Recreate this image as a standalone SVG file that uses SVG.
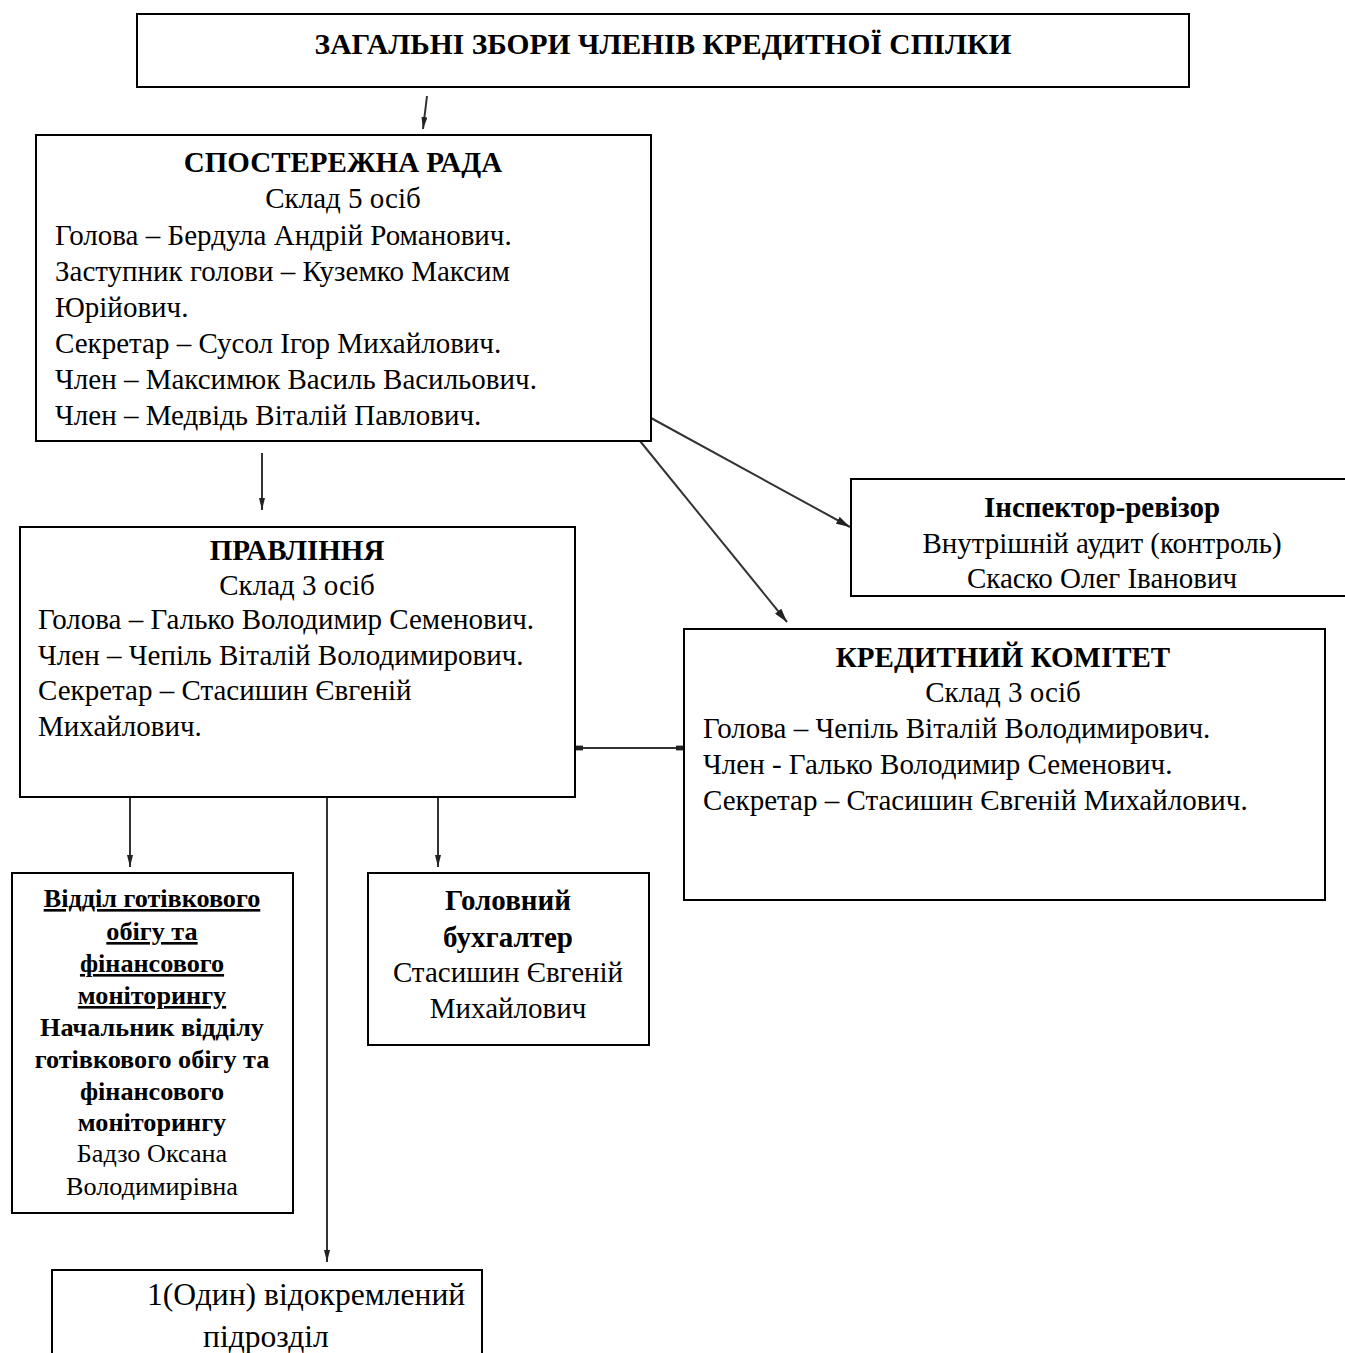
<svg xmlns="http://www.w3.org/2000/svg" width="1345" height="1353" viewBox="0 0 1345 1353">
<style>
.box{fill:#fff;stroke:#000;stroke-width:2}
text{font-family:"Liberation Serif","Times New Roman",serif;font-size:29px;fill:#000}
.b{font-weight:bold}
.c{text-anchor:middle}
.u{text-decoration:underline}
.s{font-size:26.2px}
.l{font-size:31.6px}
.t{font-size:29.5px}
.ln{stroke:#333;stroke-width:2;fill:none}
</style>
<defs>
<marker id="ah" viewBox="0 0 12 6" refX="12" refY="3" markerWidth="12" markerHeight="6" orient="auto" markerUnits="userSpaceOnUse" preserveAspectRatio="none">
<path d="M0,0 L12,3 L0,6 z" fill="#222"/>
</marker>
<marker id="ah2" viewBox="0 0 14 8" refX="14" refY="4" markerWidth="14" markerHeight="8" orient="auto" markerUnits="userSpaceOnUse" preserveAspectRatio="none">
<path d="M0,0 L14,4 L0,8 z" fill="#222"/>
</marker>
<marker id="ahs" viewBox="0 0 10 10" refX="10" refY="5" markerWidth="8" markerHeight="8" orient="auto-start-reverse" markerUnits="userSpaceOnUse">
<path d="M0,2 L10,2 L10,8 L0,8 z" fill="#222"/>
</marker>
</defs>
<rect width="1345" height="1353" fill="#fff"/>
<g id="connectors">
<line class="ln" x1="427" y1="96" x2="423" y2="129" marker-end="url(#ah)"/>
<line class="ln" x1="262" y1="453" x2="262" y2="510" marker-end="url(#ah)"/>
<line class="ln" x1="651" y1="418" x2="850" y2="527" marker-end="url(#ah2)"/>
<line class="ln" x1="640" y1="441" x2="787" y2="622" marker-end="url(#ah2)"/>
<line class="ln" x1="575" y1="748" x2="684" y2="748" marker-start="url(#ahs)" marker-end="url(#ahs)"/>
<line class="ln" x1="130" y1="798" x2="130" y2="867" marker-end="url(#ah)"/>
<line class="ln" x1="438" y1="798" x2="438" y2="867" marker-end="url(#ah)"/>
<line class="ln" x1="327" y1="798" x2="327" y2="1262" marker-end="url(#ah)"/>
</g>
<g id="zbory">
<rect class="box" x="137" y="14" width="1052" height="73"/>
<text class="b c t" x="663" y="54">ЗАГАЛЬНІ ЗБОРИ ЧЛЕНІВ КРЕДИТНОЇ СПІЛКИ</text>
</g>
<g id="rada">
<rect class="box" x="36" y="135" width="615" height="306"/>
<text class="b c" x="343" y="172">СПОСТЕРЕЖНА РАДА</text>
<text class="c" x="343" y="208">Склад 5 осіб</text>
<text x="55" y="245">Голова – Бердула Андрій Романович.</text>
<text x="55" y="281">Заступник голови – Куземко Максим</text>
<text x="55" y="317">Юрійович.</text>
<text x="55" y="353">Секретар – Сусол Ігор Михайлович.</text>
<text x="55" y="389">Член – Максимюк Василь Васильович.</text>
<text x="55" y="425">Член – Медвідь Віталій Павлович.</text>
</g>
<g id="pravlinnia">
<rect class="box" x="20" y="527" width="555" height="270"/>
<text class="b c" x="297" y="560">ПРАВЛІННЯ</text>
<text class="c" x="297" y="595">Склад 3 осіб</text>
<text x="38" y="629">Голова – Галько Володимир Семенович.</text>
<text x="38" y="665">Член – Чепіль Віталій Володимирович.</text>
<text x="38" y="700">Секретар – Стасишин Євгеній</text>
<text x="38" y="736">Михайлович.</text>
</g>
<g id="inspektor">
<rect class="box" x="851" y="479" width="500" height="117"/>
<text class="b c" x="1102" y="517">Інспектор-ревізор</text>
<text class="c" x="1102" y="553">Внутрішній аудит (контроль)</text>
<text class="c" x="1102" y="588">Скаско Олег Іванович</text>
</g>
<g id="komitet">
<rect class="box" x="684" y="629" width="641" height="271"/>
<text class="b c" x="1003" y="667">КРЕДИТНИЙ КОМІТЕТ</text>
<text class="c" x="1003" y="702">Склад 3 осіб</text>
<text x="703" y="738">Голова – Чепіль Віталій Володимирович.</text>
<text x="703" y="774">Член - Галько Володимир Семенович.</text>
<text x="703" y="810">Секретар – Стасишин Євгеній Михайлович.</text>
</g>
<g id="viddil">
<rect class="box" x="12" y="873" width="281" height="340"/>
<text class="b c u s" x="152" y="907">Відділ готівкового</text>
<text class="b c u s" x="152" y="940">обігу та</text>
<text class="b c u s" x="152" y="972">фінансового</text>
<text class="b c u s" x="152" y="1004">моніторингу</text>
<text class="b c s" x="152" y="1036">Начальник відділу</text>
<text class="b c s" x="152" y="1068">готівкового обігу та</text>
<text class="b c s" x="152" y="1100">фінансового</text>
<text class="b c s" x="152" y="1131">моніторингу</text>
<text class="c s" x="152" y="1162">Бадзо Оксана</text>
<text class="c s" x="152" y="1195">Володимирівна</text>
</g>
<g id="buhgalter">
<rect class="box" x="368" y="873" width="281" height="172"/>
<text class="b c" x="508" y="910">Головний</text>
<text class="b c" x="508" y="947">бухгалтер</text>
<text class="c" x="508" y="982">Стасишин Євгеній</text>
<text class="c" x="508" y="1018">Михайлович</text>
</g>
<g id="pidrozdil">
<rect class="box" x="52" y="1270" width="430" height="100"/>
<text class="l" x="147" y="1305">1(Один) відокремлений</text>
<text class="l" x="203" y="1347">підрозділ</text>
</g>
</svg>
